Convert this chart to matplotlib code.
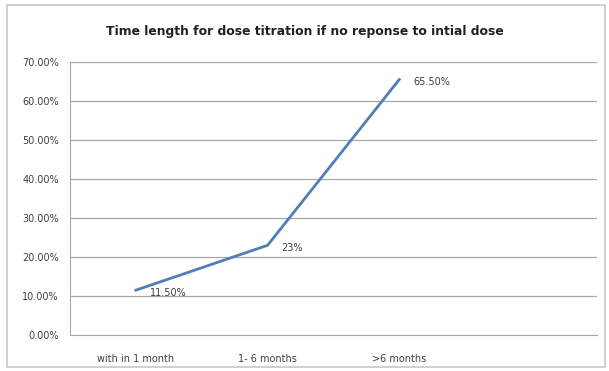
import matplotlib
matplotlib.use("Agg")
import matplotlib.pyplot as plt
from matplotlib.patches import Rectangle

categories = ["with in 1 month", "1- 6 months", ">6 months"]
values = [11.5, 23.0, 65.5]
point_labels = ["11.50%", "23%", "65.50%"]
yticks = [0, 10, 20, 30, 40, 50, 60, 70]

fig = plt.figure(figsize=(6.09, 3.71), dpi=100)
fig.patches.append(Rectangle((0.012, 0.012), 0.982, 0.975, transform=fig.transFigure,
                             fill=False, edgecolor="#c8c8c8", linewidth=1.2))
ax = fig.add_axes([0.115, 0.097, 0.865, 0.736])

x = list(range(len(categories)))
ax.plot(x, values, color="#4f7fb5", linewidth=2.0, zorder=3)
for xi, v, lab in zip(x, values, point_labels):
    ax.annotate(lab, (xi, v), xytext=(10, -2), textcoords="offset points",
                fontsize=7, color="#404040", va="center", ha="left")

ax.set_xlim(-0.5, 3.5)
ax.set_ylim(0, 70)
ax.set_yticks(yticks)
ax.set_yticklabels([f"{t:.2f}%" for t in yticks])
ax.set_xticks(x)
ax.set_xticklabels(categories)
ax.tick_params(axis="both", length=0, labelsize=7, colors="#404040")
ax.tick_params(axis="x", pad=14)
ax.tick_params(axis="y", pad=8)
ax.grid(axis="y", color="#a8a8a8", linewidth=0.9)
ax.set_axisbelow(True)
for s in ["top", "right"]:
    ax.spines[s].set_visible(False)
ax.spines["left"].set_color("#a8a8a8")
ax.spines["bottom"].set_color("#a8a8a8")

fig.text(0.5, 0.915, "Time length for dose titration if no reponse to intial dose",
         ha="center", va="center", fontsize=8.9, fontweight="bold", color="#202020")

fig.savefig("out.png", dpi=100)
